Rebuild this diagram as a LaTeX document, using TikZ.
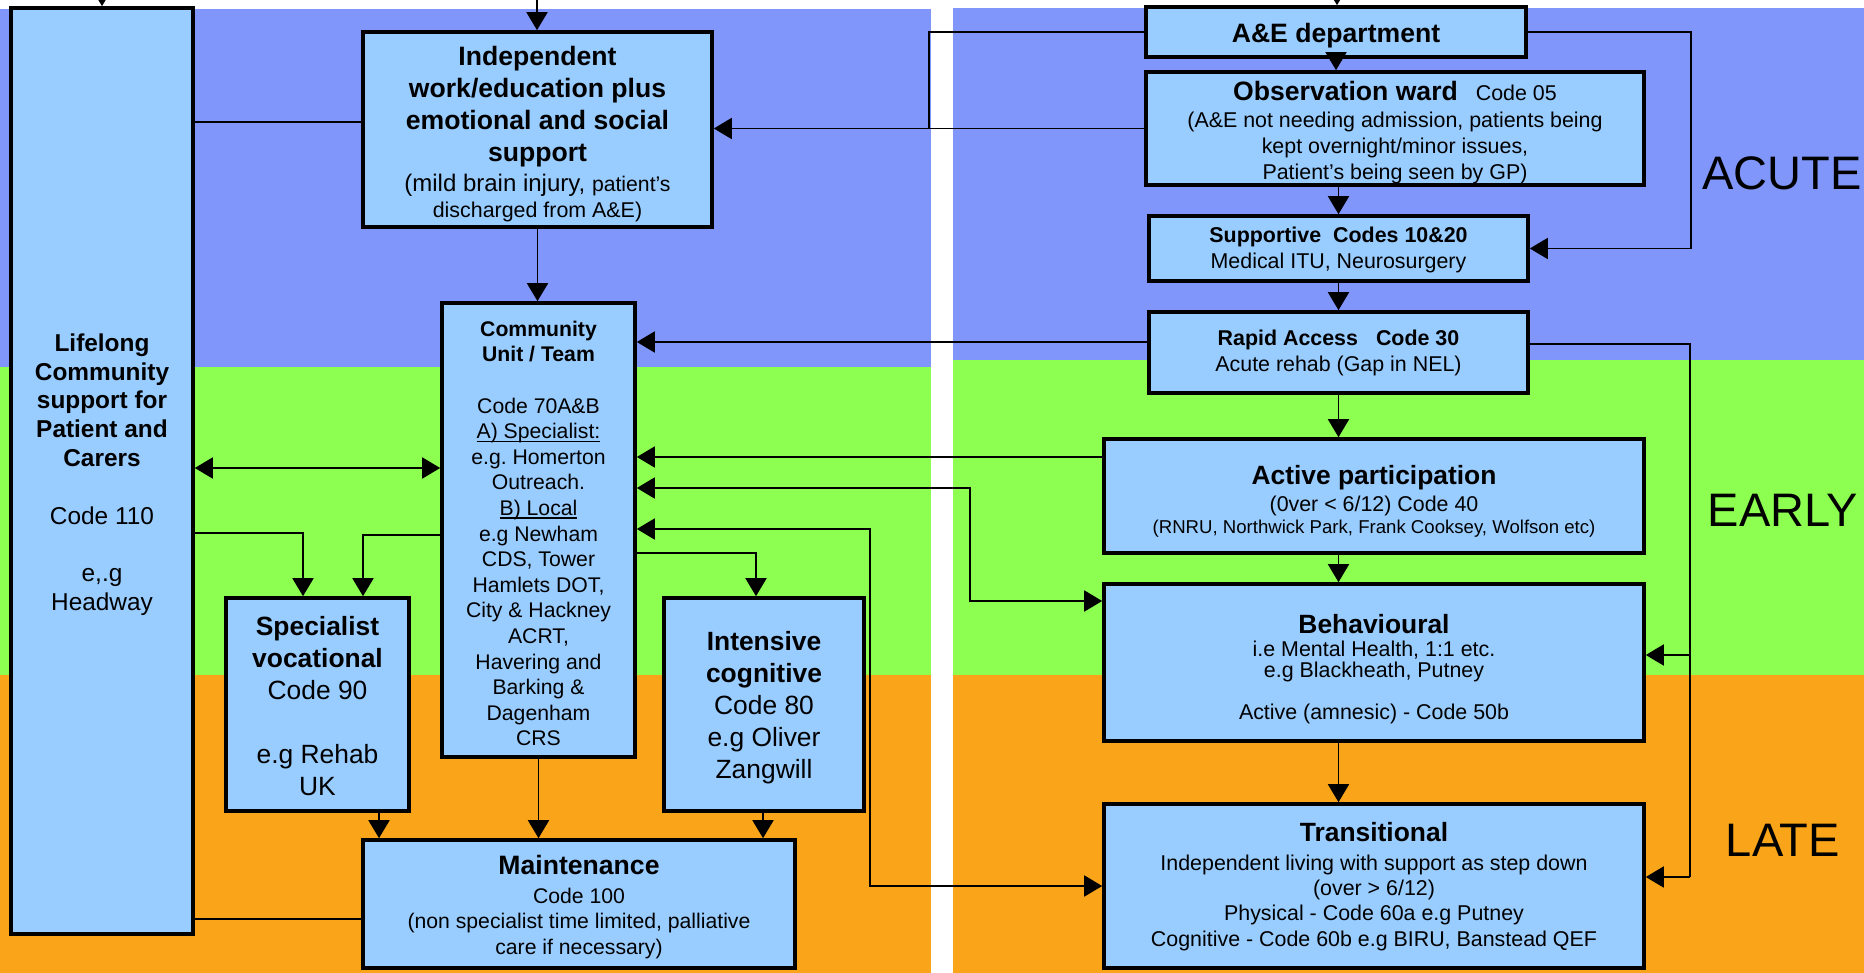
\documentclass[tikz,border=0pt]{standalone}
\usepackage{fontspec}
\setmainfont{Liberation Sans}
\usetikzlibrary{arrows.meta}
\definecolor{bgblue}{RGB}{128,150,250}
\definecolor{bggreen}{RGB}{140,255,80}
\definecolor{bgorange}{RGB}{250,165,25}
\definecolor{boxfill}{RGB}{153,204,255}
\newcommand{\myfs}[2]{\fontsize{#1}{#2}\selectfont}
\newcommand{\myul}[1]{\setbox0=\hbox{#1}\rlap{\rule[-1.5pt]{\wd0}{0.6pt}}\box0}
\begin{document}
\begin{tikzpicture}[x=0.5pt,y=-0.5pt,
  box/.style={draw=black, line width=1.8pt, fill=boxfill, inner sep=0pt},
  txt/.style={inner sep=0pt, align=center},
  conn/.style={line width=0.9pt},
  arr/.style={conn, -{Triangle[length=9pt,width=10.5pt]}},
  darr/.style={conn, {Triangle[length=9pt,width=10.5pt]}-{Triangle[length=9pt,width=10.5pt]}},
  stage/.style={font=\myfs{23.5}{27}, inner sep=0pt}
]
\useasboundingbox (0,0) rectangle (1864,973);
\fill[white] (0,0) rectangle (1864,973);
% backgrounds
\fill[bgblue]   (0,9)   rectangle (931,367);
\fill[bggreen]  (0,367) rectangle (931,675);
\fill[bgorange] (0,675) rectangle (931,973);
\fill[bgblue]   (953,8)   rectangle (1864,360);
\fill[bggreen]  (953,360) rectangle (1864,675);
\fill[bgorange] (953,675) rectangle (1864,973);

% boxes
\node[box, minimum width=91pt, minimum height=463pt] (lifelong) at (102,471) {};
\node[txt, font=\myfs{12.2}{14.4}] (lifelong-t) at ([yshift=-1.8pt]lifelong.center)
 {\bfseries Lifelong\\ \bfseries Community\\ \bfseries support for\\ \bfseries Patient and\\ \bfseries Carers\\ \\ Code 110\\ \\ e,.g\\ Headway};

\node[box, minimum width=174.5pt, minimum height=97.5pt] (indep) at (537.5,129.5) {};
\node[txt, font=\myfs{13.3}{16}] (indep-t) at ([yshift=-2.4pt]indep.center)
 {\bfseries Independent\\ \bfseries work/education plus\\ \bfseries emotional and social\\ \bfseries support\\[-1pt]
  \myfs{12}{13}(mild brain injury, \myfs{10.6}{13}patient’s\\[-3pt]
  \myfs{10.7}{13}discharged from A\&E)};

\node[box, minimum width=96.5pt, minimum height=227pt] (community) at (538.5,530) {};
\node[txt, font=\myfs{10.6}{12.8}] (community-t) at ([yshift=-1.8pt]community.center)
 {\bfseries Community\\ \bfseries Unit / Team\\ \\ Code 70A\&B\\ \myul{A) Specialist:}\\ e.g.\ Homerton\\ Outreach.\\
  \myul{B) Local}\\ e.g Newham\\ CDS, Tower\\ Hamlets DOT,\\ City \& Hackney\\ ACRT,\\ Havering and\\ Barking \&\\ Dagenham\\ CRS};

\node[box, minimum width=91.5pt, minimum height=106.5pt] (specialist) at (317.5,704.5) {};
\node[txt, font=\myfs{13.2}{16}] (specialist-t) at ([yshift=-0.9pt]specialist.center)
 {\bfseries Specialist\\ \bfseries vocational\\ Code 90\\ \\ e.g Rehab\\ UK};

\node[box, minimum width=100pt, minimum height=106.5pt] (intensive) at (764,704.5) {};
\node[txt, font=\myfs{13.2}{16}] (intensive-t) at ([yshift=-1.5pt]intensive.center)
 {\bfseries Intensive\\ \bfseries cognitive\\ Code 80\\ e.g Oliver\\ Zangwill};

\node[box, minimum width=216pt, minimum height=64pt] (maintenance) at (579,904) {};
\node[txt, font=\myfs{10.6}{12.8}] (maintenance-t) at ([yshift=-1.5pt]maintenance.center)
 {\myfs{13.3}{16}\bfseries Maintenance\\[1.5pt] Code 100\\ (non specialist time limited, palliative\\ care if necessary)};

\node[box, minimum width=190pt, minimum height=25pt] (ae) at (1336,32) {};
\node[txt, font=\myfs{13.3}{16}] (ae-t) at ([yshift=-1.8pt]ae.center) {\bfseries A\&E department};

\node[box, minimum width=249pt, minimum height=56.5pt] (obs) at (1395,128.5) {};
\node[txt, font=\myfs{10.7}{13}] (obs-t) at ([yshift=-2.2pt]obs.center)
 {{\myfs{13.3}{16}\bfseries Observation ward}\hspace{9pt}Code 05\\[0.5pt]
  (A\&E not needing admission, patients being\\ kept overnight/minor issues,\\ Patient’s being seen by GP)};

\node[box, minimum width=189.5pt, minimum height=32.5pt] (supp) at (1338.5,248.5) {};
\node[txt, font=\myfs{10.7}{13}] (supp-t) at ([yshift=-0.9pt]supp.center)
 {\bfseries Supportive\hspace{6pt}Codes 10\&20\\ Medical ITU, Neurosurgery};

\node[box, minimum width=189.5pt, minimum height=40.5pt] (rapid) at (1338.5,352.5) {};
\node[txt, font=\myfs{10.7}{13}] (rapid-t) at (rapid.center)
 {\bfseries Rapid Access\hspace{9pt}Code 30\\ Acute rehab (Gap in NEL)};

\node[box, minimum width=270pt, minimum height=57pt] (active) at (1374,496) {};
\node[txt, font=\myfs{10.7}{12.5}] (active-t) at ([yshift=-2.7pt]active.center)
 {\myfs{13.2}{16}\bfseries Active participation\\[1pt] (0ver < 6/12) Code 40\\[-1.8pt] \myfs{9.3}{11}(RNRU, Northwick Park, Frank Cooksey, Wolfson etc)};

\node[box, minimum width=270pt, minimum height=78.5pt] (behav) at (1374,662.5) {};
\node[txt, font=\myfs{10.7}{10.5}] (behav-t) at ([yshift=-3.3pt]behav.center)
 {\myfs{13.2}{16}\bfseries Behavioural\\[0.8pt] i.e Mental Health, 1:1 etc.\\ e.g Blackheath, Putney\\ \\ Active (amnesic) - Code 50b};

\node[box, minimum width=270pt, minimum height=82pt] (trans) at (1374,886) {};
\node[txt, font=\myfs{10.7}{12.7}] (trans-t) at ([yshift=-0.3pt]trans.center)
 {\myfs{13.2}{16}\bfseries Transitional\\[1.5pt] Independent living with support as step down\\ (over > 6/12)\\
  Physical - Code 60a e.g Putney\\ Cognitive - Code 60b e.g BIRU, Banstead QEF};

% stage labels
\node[stage] (acute) at (1782,173) {ACUTE};
\node[stage] (early) at (1783,510) {EARLY};
\node[stage] (late)  at (1783,840) {LATE};

% connectors
\coordinate (tl) at (102,-20);
\coordinate (ti) at (537,-10);
\coordinate (ta) at (1337,-20);
\draw[arr] (tl) -- (tl |- lifelong.north);
\draw[arr] (ti) -- (ti |- indep.north);
\draw[arr] (ta) -- (ta |- ae.north);

\draw[conn] (lifelong.east |- 0,122) -- (indep.west |- 0,122);
\coordinate (j1) at (929,32);
\draw[conn] (ae.west) -- (j1) -- (j1 |- obs.west);
\draw[arr] (obs.west) -- (indep.east |- obs.west);
\draw[arr] (ae.south) -- (ae.south |- obs.north);
\draw[arr] (supp.north |- obs.south) -- (supp.north);
\coordinate (j2) at (1691,32);
\draw[arr] (ae.east) -- (j2) |- (supp.east);
\draw[arr] (supp.south) -- (rapid.north);
\draw[arr] (rapid.west |- 0,342) -- (community.east |- 0,342);
\draw[arr] (rapid.south) -- (rapid.south |- active.north);
\coordinate (j3) at (1690,344);
\coordinate (j4) at (1690,655);
\coordinate (j5) at (1690,877);
\draw[conn] (rapid.east |- j3) -- (j3) -- (j5);
\draw[arr] (j4) -- (behav.east |- j4);
\draw[arr] (j5) -- (trans.east |- j5);
\draw[arr] (rapid.south |- active.south) -- (rapid.south |- behav.north);
\draw[arr] (rapid.south |- behav.south) -- (rapid.south |- trans.north);
\draw[arr] (active.west |- 0,457) -- (community.east |- 0,457);
\coordinate (j6) at (970,488);
\draw[darr] (community.east |- j6) -- (j6) |- (behav.west |- 0,601);
\coordinate (j7) at (870,529);
\draw[darr] (community.east |- j7) -- (j7) |- (trans.west |- 0,886);
\coordinate (j8) at (756,553);
\draw[arr] (community.east |- j8) -| (intensive.north -| j8);
\draw[darr] (lifelong.east |- 0,468) -- (community.west |- 0,468);
\coordinate (j9) at (303,533);
\draw[arr] (lifelong.east |- j9) -| (specialist.north -| j9);
\coordinate (j10) at (363,535);
\draw[arr] (community.west |- j10) -| (specialist.north -| j10);
\coordinate (j11) at (379,0);
\draw[arr] (specialist.south -| j11) -- (maintenance.north -| j11);
\draw[arr] (community.south) -- (community.south |- maintenance.north);
\coordinate (j12) at (763,0);
\draw[arr] (intensive.south -| j12) -- (maintenance.north -| j12);
\draw[conn] (lifelong.east |- 0,919) -- (maintenance.west |- 0,919);
\draw[arr] (indep.south) -- (indep.south |- community.north);
\end{tikzpicture}
\end{document}
